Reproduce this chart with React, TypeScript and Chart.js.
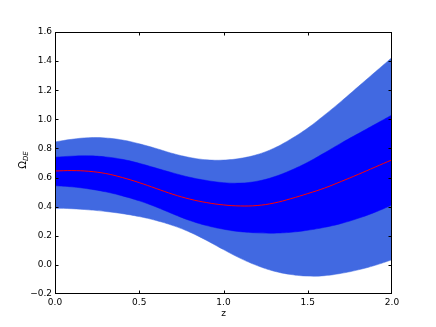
import { useEffect, useRef } from 'react';
import { Chart, registerables } from 'chart.js';
Chart.register(...registerables);

const zValues = [0, 0.1, 0.2, 0.3, 0.4, 0.5, 0.6, 0.7, 0.8, 0.9, 1.0, 1.1, 1.2, 1.3, 1.4, 1.5, 1.6, 1.7, 1.8, 1.9, 2.0];
const center = [0.645, 0.648, 0.643, 0.628, 0.6, 0.565, 0.525, 0.485, 0.452, 0.428, 0.412, 0.405, 0.408, 0.425, 0.455, 0.49, 0.528, 0.574, 0.622, 0.672, 0.722];
const innerUpper = [0.74, 0.747, 0.749, 0.742, 0.725, 0.698, 0.665, 0.632, 0.602, 0.58, 0.565, 0.562, 0.575, 0.605, 0.65, 0.705, 0.77, 0.838, 0.902, 0.966, 1.03];
const innerLower = [0.544, 0.536, 0.522, 0.502, 0.474, 0.44, 0.398, 0.35, 0.305, 0.27, 0.245, 0.228, 0.22, 0.218, 0.224, 0.238, 0.258, 0.285, 0.32, 0.362, 0.411];
const outerUpper = [0.845, 0.863, 0.874, 0.872, 0.858, 0.832, 0.8, 0.765, 0.738, 0.722, 0.72, 0.732, 0.758, 0.802, 0.865, 0.94, 1.03, 1.125, 1.225, 1.325, 1.425];
const outerLower = [0.389, 0.386, 0.378, 0.367, 0.352, 0.332, 0.305, 0.27, 0.225, 0.168, 0.105, 0.045, -0.005, -0.043, -0.066, -0.077, -0.074, -0.058, -0.034, -0.003, 0.035];
const xTicks = [0, 0.5, 1.0, 1.5, 2.0];
const yTicks = [-0.2, 0.0, 0.2, 0.4, 0.6, 0.8, 1.0, 1.2, 1.4, 1.6];
const xTitle = 'z';
const yTitleMain = 'Ω';
const yTitleSub = 'DE';

const FONT = "'DejaVu Sans', sans-serif";

export default function App() {
  const ref = useRef<HTMLCanvasElement>(null);
  useEffect(() => {
    const pts = (arr: number[]) => arr.map((v, i) => ({ x: zValues[i], y: v }));
    const fmt = (v: number) => {
      const s = Number(v).toFixed(1);
      return s.startsWith('-') ? '\u2212' + s.slice(1) : s;
    };
    const frame = {
      id: 'frame',
      afterDatasetsDraw(chart: any) {
        const { ctx, chartArea: a, scales } = chart;
        ctx.save();
        ctx.strokeStyle = '#000';
        ctx.lineWidth = 1;
        const L = Math.round(a.left) + 0.5;
        const R = Math.round(a.right) - 0.5;
        const T = Math.round(a.top) + 0.5;
        const B = Math.round(a.bottom) - 0.5;
        ctx.strokeRect(L, T, R - L, B - T);
        ctx.beginPath();
        const tl = 3;
        const clamp = (v: number, lo: number, hi: number) => Math.min(hi, Math.max(lo, v));
        xTicks.forEach((v) => {
          const x = clamp(Math.round(scales.x.getPixelForValue(v)) + 0.5, L, R);
          ctx.moveTo(x, B); ctx.lineTo(x, B - tl);
          ctx.moveTo(x, T); ctx.lineTo(x, T + tl);
        });
        yTicks.forEach((v) => {
          const y = clamp(Math.round(scales.y.getPixelForValue(v)) + 0.5, T, B);
          ctx.moveTo(L, y); ctx.lineTo(L + tl, y);
          ctx.moveTo(R, y); ctx.lineTo(R - tl, y);
        });
        ctx.stroke();
        // x title
        ctx.fillStyle = '#000';
        ctx.font = `9px ${FONT}`;
        ctx.textAlign = 'center';
        ctx.textBaseline = 'middle';
        ctx.fillText(xTitle, (a.left + a.right) / 2, 314);
        // y title with subscript
        ctx.translate(22, 160);
        ctx.rotate(-Math.PI / 2);
        ctx.textAlign = 'left';
        ctx.textBaseline = 'alphabetic';
        ctx.font = `10px ${FONT}`;
        const w1 = ctx.measureText(yTitleMain).width;
        ctx.font = `italic 7px ${FONT}`;
        const w2 = ctx.measureText(yTitleSub).width;
        const start = -(w1 + w2) / 2;
        ctx.font = `10px ${FONT}`;
        ctx.fillText(yTitleMain, start, 4);
        ctx.font = `italic 7px ${FONT}`;
        ctx.fillText(yTitleSub, start + w1, 6);
        ctx.restore();
      },
    };
    const base = { pointRadius: 0, tension: 0.4, pointHoverRadius: 0 };
    const chart = new Chart(ref.current as HTMLCanvasElement, {
      type: 'line',
      data: {
        datasets: [
          { ...base, data: pts(outerUpper), fill: '+1', backgroundColor: '#4169E1', borderColor: '#4169E1', borderWidth: 0.5, order: 3 },
          { ...base, data: pts(outerLower), fill: false, borderColor: '#4169E1', borderWidth: 0.5, order: 3 },
          { ...base, data: pts(innerUpper), fill: '+1', backgroundColor: '#0000FF', borderColor: '#0000FF', borderWidth: 0.5, order: 2 },
          { ...base, data: pts(innerLower), fill: false, borderColor: '#0000FF', borderWidth: 0.5, order: 2 },
          { ...base, data: pts(center), fill: false, borderColor: '#FF0000', borderWidth: 1, order: 1 },
        ],
      },
      options: {
        animation: false,
        responsive: false,
        maintainAspectRatio: false,
        events: [],
        layout: { padding: { top: 32, right: 44, left: 0, bottom: 0 } },
        plugins: { legend: { display: false }, tooltip: { enabled: false } },
        scales: {
          x: {
            type: 'linear',
            min: 0,
            max: 2,
            afterBuildTicks: (s: any) => { s.ticks = xTicks.map((v) => ({ value: v })); },
            afterFit: (s: any) => { s.height = 33; },
            ticks: { color: '#000', font: { family: FONT, size: 9 }, padding: 3, maxRotation: 0, autoSkip: false, callback: (v: any) => fmt(v) },
            grid: { display: false, drawTicks: false, tickLength: 0 },
            border: { display: false },
          },
          y: {
            type: 'linear',
            min: -0.2,
            max: 1.6,
            afterBuildTicks: (s: any) => { s.ticks = yTicks.map((v) => ({ value: v })); },
            afterFit: (s: any) => { s.width = 55; },
            ticks: { color: '#000', font: { family: FONT, size: 9 }, padding: 3, autoSkip: false, callback: (v: any) => fmt(v) },
            grid: { display: false, drawTicks: false, tickLength: 0 },
            border: { display: false },
          },
        },
      },
      plugins: [frame],
    } as any);
    return () => chart.destroy();
  }, []);
  return (
    <div style={{ position: 'fixed', left: 0, top: 0, width: 436, height: 327, background: '#fff' }}>
      <canvas ref={ref} width={436} height={327} style={{ width: 436, height: 327, display: 'block' }} />
    </div>
  );
}
